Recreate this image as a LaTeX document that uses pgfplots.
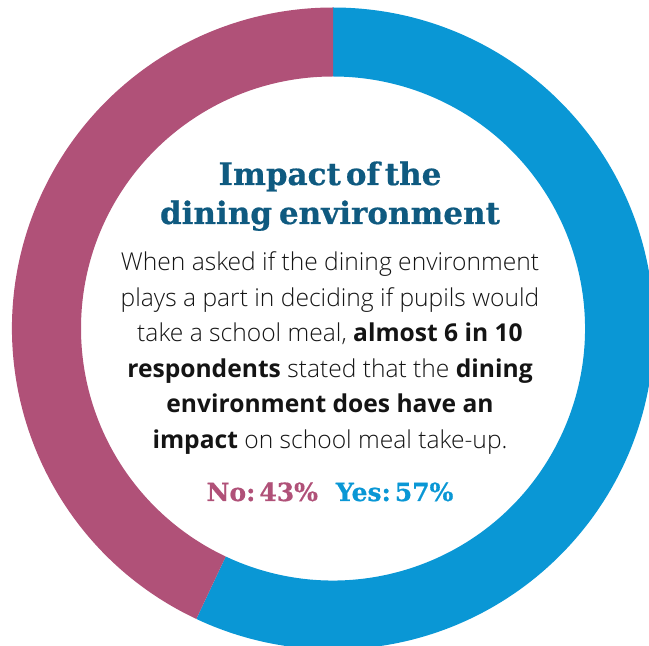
\documentclass[border=0pt]{standalone}
\usepackage{pgfplots}
\pgfplotsset{compat=1.18}
\usepackage{pgfplotstable}
\usepackage{fontspec}
\setmainfont{Open Sans}[UprightFont={* Light}, BoldFont={* Bold}]
\newfontfamily\titlefont[BoldFeatures={FakeBold=0.6}]{DejaVu Serif}
\definecolor{yesblue}{HTML}{0A97D5}
\definecolor{nomag}{HTML}{B05178}
\definecolor{titleblue}{HTML}{0F5A80}
\definecolor{bodytext}{HTML}{141414}
\pgfplotstableread{
label value
Yes 57
No 43
}\donutdata
\begin{document}
\begin{tikzpicture}
\pgfplotstablegetelem{0}{value}\of\donutdata
\pgfmathsetmacro{\yesang}{\pgfplotsretval*3.6}
\begin{axis}[
  width=649pt, height=646pt, scale only axis,
  xmin=-333, xmax=316, ymin=-317.5, ymax=328.5,
  hide axis, clip=true,
]
\def\Ro{321}\def\Ri{252}
\coordinate (SW) at (rel axis cs:0,0);
\coordinate (NE) at (rel axis cs:1,1);
% Yes segment (clockwise from top)
\fill[yesblue] (axis cs:0,\Ro) arc[start angle=90, end angle={90-\yesang}, radius=\Ro]
  -- ({axis cs:{\Ri*cos(90-\yesang)},{\Ri*sin(90-\yesang)}}) arc[start angle={90-\yesang}, end angle=90, radius=\Ri] -- cycle;
% No segment
\fill[nomag] ({axis cs:{\Ro*cos(90-\yesang)},{\Ro*sin(90-\yesang)}}) arc[start angle={90-\yesang}, end angle=-270, radius=\Ro]
  -- (axis cs:0,\Ri) arc[start angle=-270, end angle={90-\yesang}, radius=\Ri] -- cycle;
% Texts
\node[anchor=base, text=titleblue, font=\titlefont\bfseries\fontsize{31}{39}\selectfont] at (axis cs:-3,143.5) {Impact\hspace{5pt}of\hspace{5pt}the};
\node[anchor=base, text=titleblue, font=\titlefont\bfseries\fontsize{31}{39}\selectfont] at (axis cs:-3,104.5) {dining\hspace{7pt}environment};
\node[anchor=base, text=bodytext, font=\fontsize{24.6}{35.5}\selectfont] at (axis cs:-3,57.5) {When asked if the dining environment};
\node[anchor=base, text=bodytext, font=\fontsize{24.6}{35.5}\selectfont] at (axis cs:-3,22) {plays a part in deciding if pupils would};
\node[anchor=base, text=bodytext, font=\fontsize{24.6}{35.5}\selectfont] at (axis cs:-3,-13.5) {take a school meal, \textbf{almost 6 in 10}};
\node[anchor=base, text=bodytext, font=\fontsize{24.6}{35.5}\selectfont] at (axis cs:-3,-49) {\textbf{respondents} stated that the \textbf{dining}};
\node[anchor=base, text=bodytext, font=\fontsize{24.6}{35.5}\selectfont] at (axis cs:-3,-84.5) {\textbf{environment does have an}};
\node[anchor=base, text=bodytext, font=\fontsize{24.6}{35.5}\selectfont] at (axis cs:-3,-120) {\textbf{impact} on school meal take-up.};
\node[anchor=base, font=\titlefont\bfseries\fontsize{25}{30}\selectfont] at (axis cs:-3,-172.5) {\textcolor{nomag}{No:\hspace{4pt}43\%}\hspace{18pt}\textcolor{yesblue}{Yes:\hspace{4pt}57\%}};
\end{axis}
\pgfresetboundingbox
\path[use as bounding box] (SW) rectangle (NE);
\end{tikzpicture}
\end{document}
